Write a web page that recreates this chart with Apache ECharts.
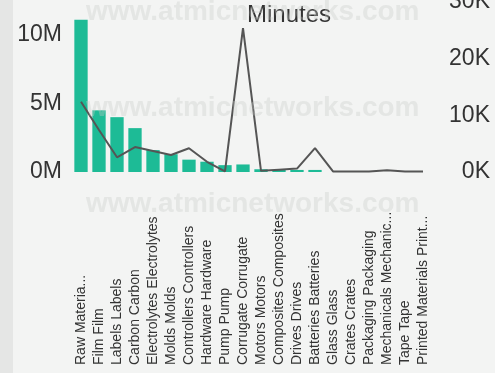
<!DOCTYPE html>
<html>
<head>
<meta charset="utf-8">
<script src="https://cdn.jsdelivr.net/npm/echarts@6/dist/echarts.min.js"></script>
<style>
  html, body { margin: 0; padding: 0; background: #f3f4f3; }
  #chart { width: 495px; height: 373px; }
</style>
</head>
<body>
<div id="chart"></div>
<script>
// Material categories (as displayed on the axis)
const categories = [
  'Raw Materia...', 'Film Film', 'Labels Labels', 'Carbon Carbon',
  'Electrolytes Electrolytes', 'Molds Molds', 'Controllers Controllers',
  'Hardware Hardware', 'Pump Pump', 'Corrugate Corrugate', 'Motors Motors',
  'Composites Composites', 'Drives Drives', 'Batteries Batteries',
  'Glass Glass', 'Crates Crates', 'Packaging Packaging',
  'Mechanicals Mechanic...', 'Tape Tape', 'Printed Materials Print...'
];

// Bar series (left axis, millions)
const barValues = [
  11100000, 4500000, 4000000, 3200000, 1600000, 1300000, 900000,
  750000, 500000, 550000, 200000, 150000, 150000, 150000,
  0, 0, 0, 0, 0, 0
];

// Minutes line (right axis, thousands)
const minutesValues = [
  12400, 7400, 2600, 4400, 3700, 3000, 4200,
  1800, 100, 25400, 200, 400, 600, 4200,
  100, 100, 100, 300, 100, 100
];

const leftTicks = [0, 5000000, 10000000];
const rightTicks = [0, 10000, 20000, 30000];

const chart = echarts.init(document.getElementById('chart'), null, { renderer: 'canvas' });

const wmStyle = {
  fill: 'rgba(200,202,200,0.35)',
  font: 'bold 28px "Liberation Sans", Arial, sans-serif'
};

chart.setOption({
  backgroundColor: '#f3f4f3',
  animation: false,
  textStyle: { fontFamily: '"Liberation Sans", Arial, sans-serif' },
  graphic: [
    { type: 'rect', left: 0, top: 0, shape: { width: 13, height: 373 },
      style: { fill: '#e5e6e5' }, z: -10 },
    { type: 'text', left: 247, top: 3, z: 10,
      style: { text: 'Minutes', fill: '#333', font: '24px "Liberation Sans", Arial, sans-serif' } },
    { type: 'text', left: 86, top: -2, z: 20, style: Object.assign({ text: 'www.atmicnetworks.com' }, wmStyle) },
    { type: 'text', left: 86, top: 94, z: 20, style: Object.assign({ text: 'www.atmicnetworks.com' }, wmStyle) },
    { type: 'text', left: 86, top: 190, z: 20, style: Object.assign({ text: 'www.atmicnetworks.com' }, wmStyle) }
  ],
  grid: { left: 72, right: 63, top: 2, bottom: 201, containLabel: false, outerBoundsMode: 'none' },
  xAxis: {
    type: 'category',
    data: categories,
    axisLine: { show: false },
    axisTick: { show: false },
    axisLabel: {
      interval: 0,
      rotate: 90,
      align: 'left',
      verticalAlign: 'middle',
      margin: 193,
      fontSize: 14,
      color: '#333'
    }
  },
  yAxis: [
    {
      type: 'value',
      min: 0,
      max: 12400000,
      interval: 5000000,
      splitLine: { show: false },
      axisLine: { show: false },
      axisTick: { show: false },
      axisLabel: {
        margin: 10,
        fontSize: 23,
        color: '#333',
        formatter: v => leftTicks.includes(v) ? (v / 1000000) + 'M' : ''
      }
    },
    {
      type: 'value',
      min: 0,
      max: 30000,
      interval: 10000,
      splitLine: { show: false },
      axisLine: { show: false },
      axisTick: { show: false },
      axisLabel: {
        align: 'right',
        margin: 58,
        fontSize: 23,
        color: '#333',
        formatter: v => rightTicks.includes(v) ? (v / 1000) + 'K' : ''
      }
    }
  ],
  series: [
    {
      type: 'bar',
      yAxisIndex: 0,
      data: barValues,
      barCategoryGap: '26%',
      itemStyle: { color: '#1dbb96' },
      z: 2
    },
    {
      type: 'line',
      yAxisIndex: 1,
      data: minutesValues,
      showSymbol: false,
      symbol: 'none',
      lineStyle: { color: '#555', width: 2 },
      z: 3
    }
  ]
});
</script>
</body>
</html>
